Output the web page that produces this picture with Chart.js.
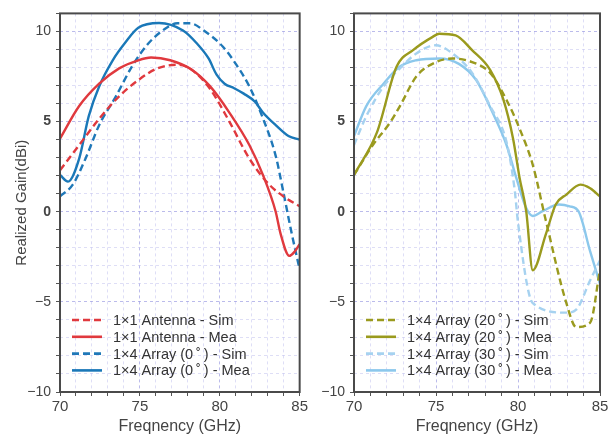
<!DOCTYPE html>
<html><head><meta charset="utf-8">
<script src="https://cdn.jsdelivr.net/npm/chart.js@4"></script>
<style>
html,body{margin:0;padding:0;background:#fff;width:613px;height:438px;overflow:hidden}
.box{position:absolute;top:0;height:438px}
</style></head><body>
<div class="box" style="left:0;width:310px"><canvas id="c1"></canvas></div>
<div class="box" style="left:300px;width:313px"><canvas id="c2"></canvas></div>
<script>
// ---- Data ----
const xTicks = [70, 75, 80, 85];
const yTicks = [-10, -5, 0, 5, 10];
const xTitle = 'Freqnency (GHz)';
const yTitle = 'Realized Gain(dBi)';

// Left panel
const fAntSim = [70, 71.2, 72.45, 73.7, 74.9, 76.1, 77.35, 78.2, 79.4, 80.6, 81.85, 83.1, 84.1, 85];
const gAntSim = [2.3, 3.7, 5.15, 6.4, 7.3, 7.95, 8.15, 7.9, 6.8, 5.0, 2.95, 1.5, 0.78, 0.3];
const fAntMea = [70, 71.2, 72.45, 73.7, 74.9, 75.7, 76.9, 78.2, 79.4, 80.6, 81.85, 82.7, 83.5, 83.8, 84.35, 84.7, 85];
const gAntMea = [4.05, 5.86, 7.1, 7.95, 8.4, 8.55, 8.4, 7.9, 6.95, 5.5, 3.7, 2.04, 0.0, -1.2, -2.45, -2.2, -1.8];
const fArr0Sim = [70, 70.8, 71.6, 72.45, 73.5, 74.5, 75.5, 76.5, 77.35, 78.15, 79, 80.2, 81, 81.85, 82.65, 83.5, 84.0, 84.5, 85];
const gArr0Sim = [0.85, 1.5, 2.95, 4.8, 6.4, 8.05, 9.3, 10.1, 10.45, 10.45, 10.05, 9.15, 8.2, 6.95, 5.3, 3.1, 1.0, -1.2, -3.2];
const fArr0Mea = [70, 70.5, 71.2, 71.8, 72.45, 73.3, 74.1, 74.9, 76.2, 77.7, 78.6, 79.3, 79.8, 80.3, 80.9, 81.5, 82.2, 82.7, 83.5, 84.3, 85];
const gArr0Mea = [2.04, 1.67, 2.95, 5.3, 6.95, 8.4, 9.4, 10.2, 10.47, 10.05, 9.3, 8.5, 7.6, 7.1, 6.85, 6.55, 6.1, 5.5, 4.8, 4.2, 4.0];

// Right panel
const f20Sim = [70, 71.15, 72.2, 72.8, 73.8, 75.0, 76.0, 77.2, 78.3, 79.3, 80.1, 80.9, 81.7, 82.95, 83.55, 84.4, 85];
const g20Sim = [2.04, 3.7, 4.95, 5.86, 7.5, 8.3, 8.5, 8.3, 7.7, 6.2, 4.6, 2.6, -0.5, -5.07, -6.4, -6.15, -3.2];
const f20Mea = [70, 71.4, 72.6, 73.6, 74.8, 75.2, 76.2, 77.2, 78.3, 79.1, 79.7, 80.1, 80.5, 80.9, 81.7, 82.3, 82.95, 83.8, 84.4, 85];
const g20Mea = [2.04, 4.4, 8.05, 8.96, 9.7, 9.87, 9.78, 8.96, 7.87, 6.24, 4.05, 1.86, 0.03, -3.25, -1.24, 0.4, 0.95, 1.5, 1.3, 0.85];
const f30Sim = [70, 70.75, 71.8, 72.8, 73.8, 75.0, 76.0, 77.2, 78.3, 79.3, 79.8, 80.0, 80.9, 82.95, 83.55, 84.4, 85];
const g30Sim = [3.7, 5.3, 6.95, 7.95, 8.78, 9.23, 8.78, 7.7, 5.86, 3.86, 1.2, -0.6, -5.07, -5.6, -5.43, -3.8, -2.7];
const f30Mea = [70, 70.75, 71.8, 72.8, 73.8, 75.2, 76.4, 77.45, 78.45, 79.3, 79.9, 80.5, 80.9, 81.5, 82.5, 83.15, 83.7, 84.4, 85];
const g30Mea = [4.2, 5.86, 7.1, 8.05, 8.4, 8.5, 8.2, 7.3, 5.5, 3.7, 1.86, 0.2, -0.24, 0.03, 0.4, 0.3, 0.0, -2.2, -4.0];

const labelsLeft = ['1×1 Antenna - Sim', '1×1 Antenna - Mea', '1×4 Array (0\u2009˚\u2009) - Sim', '1×4 Array (0\u2009˚\u2009) - Mea'];
const labelsRight = ['1×4 Array (20\u2009˚\u2009) - Sim', '1×4 Array (20\u2009˚\u2009) - Mea', '1×4 Array (30\u2009˚\u2009) - Sim', '1×4 Array (30\u2009˚\u2009) - Mea'];

// ---- helpers ----
const FONT = '"Liberation Sans", Arial, Helvetica, sans-serif';
const pts = (f, g) => f.map((x, i) => ({x: x, y: g[i]}));
function ds(label, f, g, color, dashed) {
  return {label, data: pts(f, g), borderColor: color, backgroundColor: color,
    borderWidth: 2.4, borderDash: dashed ? [7, 4] : [], pointRadius: 0,
    cubicInterpolationMode: 'monotone', fill: false};
}
const framePlugin = {
  id: 'frame',
  afterDraw(chart) {
    const {ctx, chartArea: a} = chart;
    const o = chart.options.plugins.frame;
    ctx.save();
    ctx.strokeStyle = '#4a4a4a'; ctx.lineWidth = 2;
    ctx.strokeRect(a.left, a.top, a.right - a.left, a.bottom - a.top);
    // legend inside plot
    ctx.font = '14.5px ' + FONT; ctx.textBaseline = 'middle'; ctx.fillStyle = '#333';
    chart.data.datasets.forEach((d, i) => {
      const y = a.bottom - 72 + i * 16.8;
      ctx.beginPath(); ctx.strokeStyle = d.borderColor; ctx.lineWidth = 2.6;
      ctx.setLineDash(d.borderDash.length ? [7, 4] : []);
      ctx.moveTo(a.left + 12, y); ctx.lineTo(a.left + 42, y); ctx.stroke();
      ctx.setLineDash([]);
      ctx.fillText(d.label, a.left + 53, y + 1);
    });
    // axis titles
    ctx.fillStyle = '#444'; ctx.font = '16px ' + FONT; ctx.textAlign = 'center';
    ctx.fillText(xTitle, (a.left + a.right) / 2, 427);
    if (o.yTitle) {
      ctx.translate(22, (a.top + a.bottom) / 2); ctx.rotate(-Math.PI / 2);
      ctx.font = '15px ' + FONT;
      ctx.fillText(yTitle, 0, 0);
    }
    ctx.restore();
  }
};
function options(yw, padRight, showYTitle) {
  const gridColor = c => (c.tick && c.tick.value % 5 === 0) ? 'rgba(120,120,215,0.5)' : 'rgba(160,160,230,0.35)';
  return {
    responsive: true, maintainAspectRatio: false, animation: false, devicePixelRatio: 1,
    layout: {padding: {top: 6, right: padRight, left: 0, bottom: 0}},
    plugins: {legend: {display: false}, tooltip: {enabled: false}, frame: {yTitle: showYTitle}},
    scales: {
      x: {type: 'linear', min: 70, max: 85,
        afterFit: s => { s.height = 46; },
        afterBuildTicks: s => { s.ticks = []; for (let v = 70; v <= 85; v++) s.ticks.push({value: v}); },
        ticks: {autoSkip: false, maxRotation: 0, padding: 2, color: '#444',
          font: {family: FONT, size: 15},
          callback: v => xTicks.includes(v) ? String(v) : ''},
        grid: {color: gridColor, tickLength: 4, tickColor: '#555', lineWidth: 1},
        border: {display: false, dash: [3, 3]}},
      y: {type: 'linear', min: -10, max: 11,
        afterFit: s => { s.width = yw; },
        afterBuildTicks: s => { s.ticks = []; for (let v = -10; v <= 11; v++) s.ticks.push({value: v}); },
        ticks: {autoSkip: false, padding: 5, color: '#444',
          font: c => ({family: FONT, size: 14, weight: (c.tick && (c.tick.value === 0 || c.tick.value === 5)) ? 'bold' : 'normal'}),
          callback: v => yTicks.includes(v) ? (v < 0 ? '\u2212' + Math.abs(v) : String(v)) : ''},
        grid: {color: gridColor, tickLength: 4, tickColor: '#555', lineWidth: 1},
        border: {display: false, dash: [3, 3]}}
    }
  };
}
Chart.register(framePlugin);
new Chart(document.getElementById('c1'), {
  type: 'line',
  data: {datasets: [
    ds(labelsLeft[0], fAntSim, gAntSim, '#e0393e', true),
    ds(labelsLeft[1], fAntMea, gAntMea, '#e0393e', false),
    ds(labelsLeft[2], fArr0Sim, gArr0Sim, '#1f78b8', true),
    ds(labelsLeft[3], fArr0Mea, gArr0Mea, '#1a78b8', false)]},
  options: options(60, 5, true)
});
new Chart(document.getElementById('c2'), {
  type: 'line',
  data: {datasets: [
    ds(labelsRight[0], f20Sim, g20Sim, '#9a9a1e', true),
    ds(labelsRight[1], f20Mea, g20Mea, '#9a9a1e', false),
    ds(labelsRight[2], f30Sim, g30Sim, '#a6d2f0', true),
    ds(labelsRight[3], f30Mea, g30Mea, '#8cc8ec', false)]},
  options: options(54, 13, false)
});
</script></body></html>
